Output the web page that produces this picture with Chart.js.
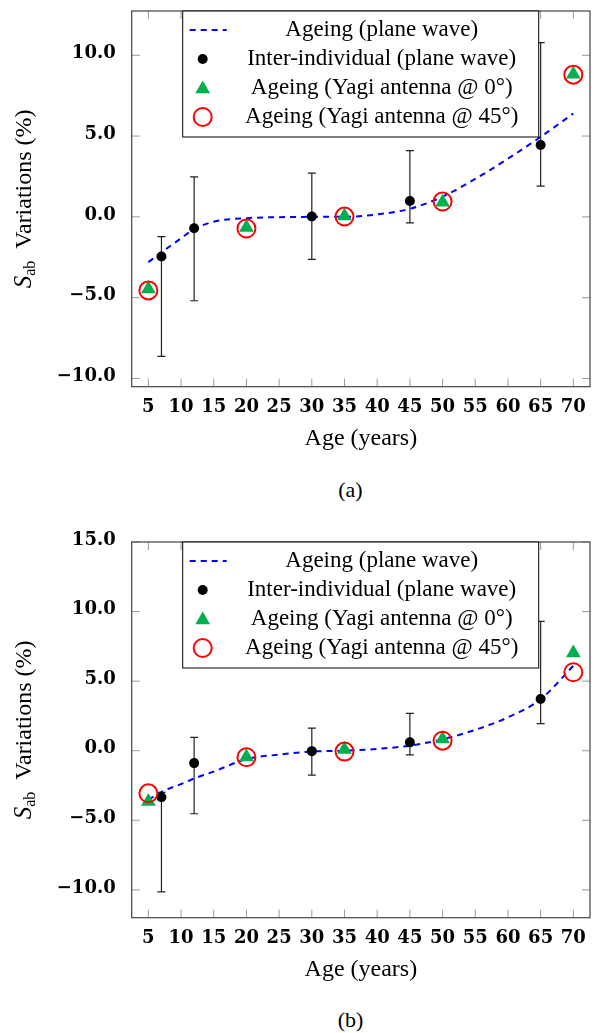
<!DOCTYPE html>
<html>
<head>
<meta charset="utf-8">
<script src="https://cdn.jsdelivr.net/npm/chart.js@4.4.1/dist/chart.umd.min.js"></script>
<style>
  body { margin: 0; background: #fff; width: 601px; height: 1033px; position: relative; overflow: hidden; }
  .panel { position: absolute; left: 0; width: 601px; height: 460px; }
  .caption { position: absolute; left: 50px; width: 601px; text-align: center; font: 22px "Liberation Serif", serif; line-height: 26px; color: #000; }
</style>
</head>
<body>
<div class="panel" style="top:0px"><canvas id="chartA" width="601" height="460"></canvas></div>
<div class="caption" style="top:477px">(a)</div>
<div class="panel" style="top:531px"><canvas id="chartB" width="601" height="460"></canvas></div>
<div class="caption" style="top:1007px">(b)</div>
<script>
const curveAge = [5, 7, 10, 12, 15, 20, 25, 30, 35, 40, 45, 50, 55, 60, 65, 70];
const curveA = [-2.8, -2.2, -1.33, -0.76, -0.3, -0.08, -0.02, 0, 0, 0.15, 0.5, 1.25, 2.35, 3.6, 4.95, 6.4];
const curveB = [-3.53, -2.95, -2.4, -2.0, -1.5, -0.6, -0.28, -0.06, 0, 0.13, 0.37, 0.82, 1.5, 2.4, 3.7, 6.1];

// inter-individual points with error bars
const interAge = [7, 12, 30, 45, 65];
const interA = [-2.45, -0.7, 0.02, 0.98, 4.45];
const interLowA = [-8.63, -5.19, -2.63, -0.37, 1.9];
const interHighA = [-1.22, 2.47, 2.71, 4.1, 10.78];
const interB = [-3.35, -0.89, -0.03, 0.6, 3.72];
const interLowB = [-10.15, -4.53, -1.76, -0.3, 1.95];
const interHighB = [-3.0, 0.96, 1.62, 2.68, 9.3];

// Yagi antenna results
const yagiAge = [5, 20, 35, 50, 70];
const yagi0A = [-4.47, -0.66, 0.05, 0.9, 8.82];
const yagi45A = [-4.55, -0.72, 0.02, 0.95, 8.8];
const yagi0B = [-3.65, -0.46, 0.08, 0.84, 7.03];
const yagi45B = [-3.06, -0.47, -0.06, 0.72, 5.64];

const xTicks = [5, 10, 15, 20, 25, 30, 35, 40, 45, 50, 55, 60, 65, 70];
const yTicksA = [-10, -5, 0, 5, 10];
const yTicksB = [-10, -5, 0, 5, 10, 15];
const legendLabels = [
    "Ageing (plane wave)",
    "Inter-individual (plane wave)",
    "Ageing (Yagi antenna @ 0°)",
    "Ageing (Yagi antenna @ 45°)"
];

const BLUE = "#0000ff";
const GREEN = "#00b050";
const RED = "#ff0000";
const SERIF = '"Liberation Serif", "Times New Roman", serif';

const pts = (xs, ys) => xs.map((x, i) => ({ x: x, y: ys[i] }));

function drawTriangle(ctx, x, y, r) {
    ctx.beginPath();
    ctx.moveTo(x, y - r);
    ctx.lineTo(x + r * Math.cos(Math.PI / 6), y + r / 2);
    ctx.lineTo(x - r * Math.cos(Math.PI / 6), y + r / 2);
    ctx.closePath();
    ctx.fill();
}

function panelPlugin(low, high) {
    return {
        id: "panel",
        beforeDatasetsDraw(chart) {
            const { ctx, chartArea: a, scales: { x, y } } = chart;
            ctx.save();
            // ticks pointing inwards on all four sides
            ctx.strokeStyle = "#9a9a9a";
            ctx.lineWidth = 1;
            ctx.beginPath();
            xTicks.forEach((v) => {
                const px = x.getPixelForValue(v);
                ctx.moveTo(px, a.bottom);
                ctx.lineTo(px, a.bottom - 8);
                ctx.moveTo(px, a.top);
                ctx.lineTo(px, a.top + 8);
            });
            y.ticks.forEach((t) => {
                const py = y.getPixelForValue(t.value);
                ctx.moveTo(a.left, py);
                ctx.lineTo(a.left + 8, py);
                ctx.moveTo(a.right, py);
                ctx.lineTo(a.right - 8, py);
            });
            ctx.stroke();

            // error bars
            ctx.strokeStyle = "#222";
            ctx.lineWidth = 1.2;
            interAge.forEach((age, i) => {
                const px = x.getPixelForValue(age);
                const top = y.getPixelForValue(high[i]);
                const bot = y.getPixelForValue(low[i]);
                ctx.beginPath();
                ctx.moveTo(px, top);
                ctx.lineTo(px, bot);
                ctx.moveTo(px - 4, top);
                ctx.lineTo(px + 4, top);
                ctx.moveTo(px - 4, bot);
                ctx.lineTo(px + 4, bot);
                ctx.stroke();
            });
            ctx.restore();
        },
        afterDatasetsDraw(chart) {
            const { ctx, chartArea: a } = chart;
            ctx.save();
            // axis frame
            ctx.strokeStyle = "#444";
            ctx.lineWidth = 1.2;
            ctx.strokeRect(a.left, a.top, a.right - a.left, a.bottom - a.top);

            // legend box
            const lx = a.left + 51, ly = a.top, lw = 356, lh = 126;
            ctx.fillStyle = "#fff";
            ctx.fillRect(lx, ly, lw, lh);
            ctx.strokeStyle = "#000";
            ctx.lineWidth = 1;
            ctx.strokeRect(lx, ly, lw, lh);

            const mx = lx + 20;
            const rowY = (i) => ly + 19 + i * 29;

            ctx.strokeStyle = BLUE;
            ctx.lineWidth = 2;
            ctx.setLineDash([6, 5]);
            ctx.beginPath();
            ctx.moveTo(lx + 7, rowY(0));
            ctx.lineTo(lx + 44, rowY(0));
            ctx.stroke();
            ctx.setLineDash([]);

            ctx.fillStyle = "#000";
            ctx.beginPath();
            ctx.arc(mx, rowY(1), 5, 0, Math.PI * 2);
            ctx.fill();

            ctx.fillStyle = GREEN;
            drawTriangle(ctx, mx, rowY(2) + 1, 8.5);

            ctx.strokeStyle = RED;
            ctx.lineWidth = 2;
            ctx.beginPath();
            ctx.arc(mx, rowY(3), 9, 0, Math.PI * 2);
            ctx.stroke();

            ctx.fillStyle = "#000";
            ctx.font = "23px " + SERIF;
            ctx.textAlign = "center";
            ctx.textBaseline = "middle";
            legendLabels.forEach((label, i) => {
                ctx.fillText(label, lx + 199, rowY(i));
            });
            ctx.restore();
        },
        afterDraw(chart) {
            const { ctx, chartArea: a } = chart;
            ctx.save();
            ctx.fillStyle = "#000";
            // x axis title
            ctx.font = "24px " + SERIF;
            ctx.textAlign = "center";
            ctx.textBaseline = "alphabetic";
            ctx.fillText("Age (years)", (a.left + a.right) / 2, a.bottom + 58.5);

            // y axis title: S_ab Variations (%)
            const fMain = "24px " + SERIF;
            const fItal = "italic 25px " + SERIF;
            const fSub = "16px " + SERIF;
            ctx.font = fItal;
            const w1 = ctx.measureText("S").width;
            ctx.font = fSub;
            const w2 = ctx.measureText("ab").width;
            ctx.font = fMain;
            const w3 = ctx.measureText("  Variations (%)").width;
            const total = w1 + w2 + w3;
            ctx.translate(31, (a.top + a.bottom) / 2);
            ctx.rotate(-Math.PI / 2);
            ctx.textAlign = "left";
            let px = -total / 2;
            ctx.font = fItal;
            ctx.fillText("S", px, 0);
            px += w1;
            ctx.font = fSub;
            ctx.fillText("ab", px, 4);
            px += w2;
            ctx.font = fMain;
            ctx.fillText("  Variations (%)", px, 0);
            ctx.restore();
        }
    };
}

function buildChart(id, curve, inter, low, high, yagi0, yagi45, yMin, yMax, yTicks) {
    const ctx = document.getElementById(id).getContext("2d");
    return new Chart(ctx, {
        type: "scatter",
        data: {
            datasets: [
                {
                    label: legendLabels[0],
                    data: pts(curveAge, curve),
                    showLine: true,
                    borderColor: BLUE,
                    borderWidth: 2,
                    borderDash: [6, 5],
                    pointRadius: 0,
                    cubicInterpolationMode: "monotone",
                    order: 4
                },
                {
                    label: legendLabels[1],
                    data: pts(interAge, inter),
                    pointStyle: "circle",
                    pointRadius: 5,
                    pointBackgroundColor: "#000",
                    pointBorderColor: "#000",
                    pointBorderWidth: 0,
                    order: 3
                },
                {
                    label: legendLabels[2],
                    data: pts(yagiAge, yagi0),
                    pointStyle: "triangle",
                    pointRadius: 8.5,
                    pointBackgroundColor: GREEN,
                    pointBorderColor: GREEN,
                    pointBorderWidth: 0,
                    order: 2
                },
                {
                    label: legendLabels[3],
                    data: pts(yagiAge, yagi45),
                    pointStyle: "circle",
                    pointRadius: 9,
                    pointBackgroundColor: "rgba(0,0,0,0)",
                    pointBorderColor: RED,
                    pointBorderWidth: 2,
                    order: 1
                }
            ]
        },
        options: {
            responsive: false,
            animation: false,
            events: [],
            layout: { padding: { top: 6, right: 11, bottom: 0, left: 0 } },
            plugins: {
                legend: { display: false },
                tooltip: { enabled: false }
            },
            scales: {
                x: {
                    type: "linear",
                    min: 2.45,
                    max: 72.55,
                    afterBuildTicks: (axis) => { axis.ticks = xTicks.map((v) => ({ value: v })); },
                    afterFit: (axis) => {
                        axis.height = 73.3;
                        axis.paddingLeft = 0;
                        axis.paddingRight = 0;
                    },
                    grid: { display: false },
                    border: { display: false },
                    ticks: {
                        autoSkip: false,
                        maxRotation: 0,
                        padding: 2,
                        color: "#000",
                        font: { family: "DejaVu Serif", size: 18, weight: "bold" },
                        callback: (v) => String(v)
                    }
                },
                y: {
                    type: "linear",
                    min: yMin,
                    max: yMax,
                    afterBuildTicks: (axis) => { axis.ticks = yTicks.map((v) => ({ value: v })); },
                    afterFit: (axis) => {
                        axis.width = 131.7;
                        axis.paddingTop = 0;
                        axis.paddingBottom = 0;
                    },
                    grid: { display: false },
                    border: { display: false },
                    ticks: {
                        padding: 8,
                        labelOffset: -2,
                        color: "#000",
                        font: { family: "DejaVu Serif", size: 18, weight: "bold" },
                        callback: (v) => (v < 0 ? "\u2212" : "") + Math.abs(v).toFixed(1)
                    }
                }
            }
        },
        plugins: [panelPlugin(low, high)]
    });
}

document.addEventListener("DOMContentLoaded", () => {
    buildChart("chartA", curveA, interA, interLowA, interHighA, yagi0A, yagi45A, -10.51, 12.74, yTicksA);
    buildChart("chartB", curveB, interB, interLowB, interHighB, yagi0B, yagi45B, -12, 15, yTicksB);
});
</script>
</body>
</html>
